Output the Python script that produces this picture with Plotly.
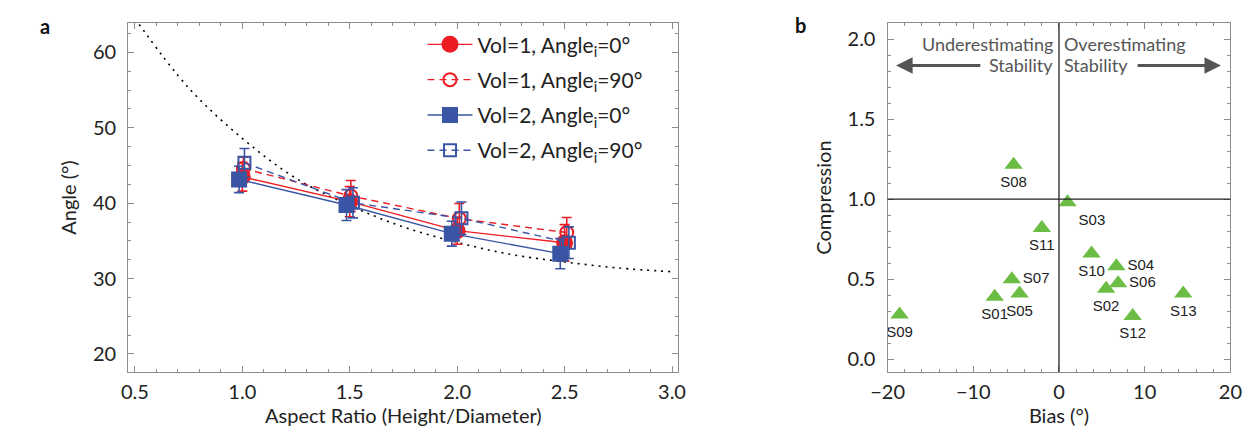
import plotly.graph_objects as go

# ---------------- Panel a data ----------------
aspect_v1_a0 = [1.0, 1.5, 2.0, 2.5]
angle_v1_a0 = [43.5, 40.2, 36.35, 34.75]
err_v1_a0 = [1.9, 2.0, 1.8, 2.4]

aspect_v1_a90 = [1.005, 1.505, 2.01, 2.51]
angle_v1_a90 = [44.6, 40.95, 37.95, 36.1]
err_v1_a90 = [1.5, 2.05, 2.0, 2.0]

aspect_v2_a0 = [0.985, 1.485, 1.975, 2.48]
angle_v2_a0 = [43.15, 39.75, 35.95, 33.3]
err_v2_a0 = [1.75, 2.05, 1.65, 2.0]

aspect_v2_a90 = [1.01, 1.515, 2.02, 2.52]
angle_v2_a90 = [45.35, 40.05, 38.0, 34.75]
err_v2_a90 = [1.9, 2.0, 2.15, 2.1]

curve_aspect = [0.5, 0.75, 1.0, 1.25, 1.5, 1.75, 2.0, 2.25, 2.5, 2.75, 3.0]
curve_angle = [64.5, 55.3, 48.6, 43.3, 39.7, 36.85, 34.8, 33.2, 32.2, 31.4, 30.9]

x_ticks_a = [0.5, 1.0, 1.5, 2.0, 2.5, 3.0]
y_ticks_a = [20, 30, 40, 50, 60]

# ---------------- Panel b data ----------------
subjects = ["S01", "S02", "S03", "S04", "S05", "S06", "S07",
            "S08", "S09", "S10", "S11", "S12", "S13"]
bias = [-7.5, 5.5, 1.0, 6.7, -4.6, 6.9, -5.5, -5.3, -18.6, 3.8, -2.0, 8.6, 14.5]
compression = [0.39, 0.44, 0.98, 0.58, 0.41, 0.475, 0.50, 1.214, 0.28, 0.66, 0.82, 0.27, 0.41]
label_pos = ["bottom center", "bottom center", "bottom right", "middle right",
             "bottom center", "middle right", "middle right", "bottom center",
             "bottom center", "bottom center", "bottom center", "bottom center",
             "bottom center"]

x_ticks_b = [-20, -10, 0, 10, 20]
y_ticks_b = [0.0, 0.5, 1.0, 1.5, 2.0]

RED = "#ED1C24"
BLUE = "#3A55A4"
GREEN = "#6CBD45"
GRAY_TXT = "#555555"
FONT = "Lato, 'Open Sans', sans-serif"

fig = go.Figure()

fig.add_trace(go.Scatter(
    x=curve_aspect, y=curve_angle, mode="lines", line_shape="spline",
    line=dict(color="black", width=1.6, dash="2px,5px"),
    showlegend=False, hoverinfo="skip", xaxis="x", yaxis="y"))


def series(x, y, e, name, color, symbol, size, dash, lw, group):
    return go.Scatter(
        x=x, y=y, name=name, mode="lines+markers", legendgroup=group,
        line=dict(color=color, width=lw, dash=dash),
        marker=dict(symbol=symbol, size=size, color=color,
                    line=dict(color=color, width=2)),
        error_y=dict(type="data", array=e, visible=True, color=color,
                     thickness=1.6, width=5),
        xaxis="x", yaxis="y")


fig.add_trace(series(aspect_v1_a0, angle_v1_a0, err_v1_a0,
                     "Vol=1, Angle<sub>i</sub>=0°", RED, "circle", 15, "solid", 1.4, "g1"))
fig.add_trace(series(aspect_v1_a90, angle_v1_a90, err_v1_a90,
                     "Vol=1, Angle<sub>i</sub>=90°", RED, "circle-open", 13, "7px,5px", 1.4, "g2"))
fig.add_trace(series(aspect_v2_a0, angle_v2_a0, err_v2_a0,
                     "Vol=2, Angle<sub>i</sub>=0°", BLUE, "square", 14, "solid", 1.4, "g3"))
fig.add_trace(series(aspect_v2_a90, angle_v2_a90, err_v2_a90,
                     "Vol=2, Angle<sub>i</sub>=90°", BLUE, "square-open", 12, "7px,5px", 1.4, "g4"))

fig.add_trace(go.Scatter(
    x=bias, y=compression, mode="markers+text", text=subjects,
    textposition=label_pos,
    textfont=dict(family="'Liberation Sans', Arial, sans-serif", size=15, color="#222"),
    marker=dict(symbol="triangle-up", size=16, color=GREEN),
    showlegend=False, xaxis="x2", yaxis="y2"))

axis_common = dict(
    showline=True, linecolor="#8c8c8c", linewidth=1.2, mirror="allticks",
    ticks="inside", ticklen=6, tickcolor="#8c8c8c", tickwidth=1,
    showgrid=False, zeroline=False,
    tickfont=dict(family=FONT, size=20, color="#222"),
)
TITLE_FONT = dict(family=FONT, size=20, color="#222")
MINOR = dict(ticks="inside", ticklen=3, tickcolor="#8c8c8c")

Y_DOM = [0.1455, 0.9648]

fig.update_layout(
    width=1252, height=426,
    margin=dict(l=0, r=0, t=0, b=0),
    paper_bgcolor="white", plot_bgcolor="white",
    font=dict(family=FONT, color="#222"),
    xaxis=dict(domain=[0.0844, 0.5343], range=[0.469, 3.03],
               tickvals=x_ticks_a, ticktext=[f"{v:.1f}" for v in x_ticks_a],
               minor=dict(dtick=0.1, **MINOR), ticklabelstandoff=2,
               title=dict(text="Aspect Ratio (Height/Diameter)", font=TITLE_FONT, standoff=4),
               **axis_common),
    yaxis=dict(domain=Y_DOM, range=[17.6, 63.9], tickvals=y_ticks_a,
               minor=dict(dtick=2.5, **MINOR), ticklabelstandoff=7,
               title=dict(text="Angle (°)", font=TITLE_FONT, standoff=10),
               **axis_common),
    xaxis2=dict(domain=[0.7053, 0.9856], range=[-20, 20], tickvals=x_ticks_b,
                minor=dict(dtick=2, **MINOR), ticklabelstandoff=2,
                title=dict(text="Bias (°)", font=TITLE_FONT, standoff=4),
                anchor="y2", **axis_common),
    yaxis2=dict(domain=Y_DOM, range=[-0.08, 2.1], tickvals=y_ticks_b,
                ticktext=[f"{v:.1f}" for v in y_ticks_b],
                minor=dict(dtick=0.1, **MINOR), ticklabelstandoff=7,
                title=dict(text="Compression", font=TITLE_FONT, standoff=10),
                anchor="x2", **axis_common),
    legend=dict(x=0.325, y=0.962, xanchor="left", yanchor="top",
                font=dict(family=FONT, size=21, color="#222"),
                bgcolor="rgba(0,0,0,0)", tracegroupgap=5, itemwidth=45),
)

# cross lines in panel b
fig.add_shape(type="line", xref="x2", yref="y2 domain", x0=0, x1=0, y0=0, y1=1,
              line=dict(color="#333", width=1.4))
fig.add_shape(type="line", xref="x2 domain", yref="y2", x0=0, x1=1, y0=1, y1=1,
              line=dict(color="#222", width=1.4))

# arrows
fig.add_annotation(xref="x2", yref="y2", axref="x2", ayref="y2",
                   x=-19.0, y=1.835, ax=-9.0, ay=1.835, text="",
                   showarrow=True, arrowhead=2, arrowsize=1.1, arrowwidth=3,
                   arrowcolor=GRAY_TXT)
fig.add_annotation(xref="x2", yref="y2", axref="x2", ayref="y2",
                   x=18.9, y=1.835, ax=9.0, ay=1.835, text="",
                   showarrow=True, arrowhead=2, arrowsize=1.1, arrowwidth=3,
                   arrowcolor=GRAY_TXT)

for txt, yv, side in [("Underestimating", 1.97, "L"), ("Stability", 1.835, "L"),
                      ("Overestimating", 1.97, "R"), ("Stability", 1.835, "R")]:
    fig.add_annotation(xref="x2", yref="y2", x=0, y=yv, text=txt, showarrow=False,
                       xanchor="right" if side == "L" else "left",
                       xshift=-4 if side == "L" else 3,
                       font=dict(family=FONT, size=18, color=GRAY_TXT))

# panel letters
fig.add_annotation(xref="paper", yref="paper", x=13 / 1252, y=1 - 18 / 426, text="<b>a</b>",
                   showarrow=False, xanchor="left", yanchor="middle",
                   font=dict(family=FONT, size=20, color="#111"))
fig.add_annotation(xref="paper", yref="paper", x=786 / 1252, y=1 - 17 / 426, text="<b>b</b>",
                   showarrow=False, xanchor="left", yanchor="middle",
                   font=dict(family=FONT, size=20, color="#111"))

fig.write_html("out.html")
